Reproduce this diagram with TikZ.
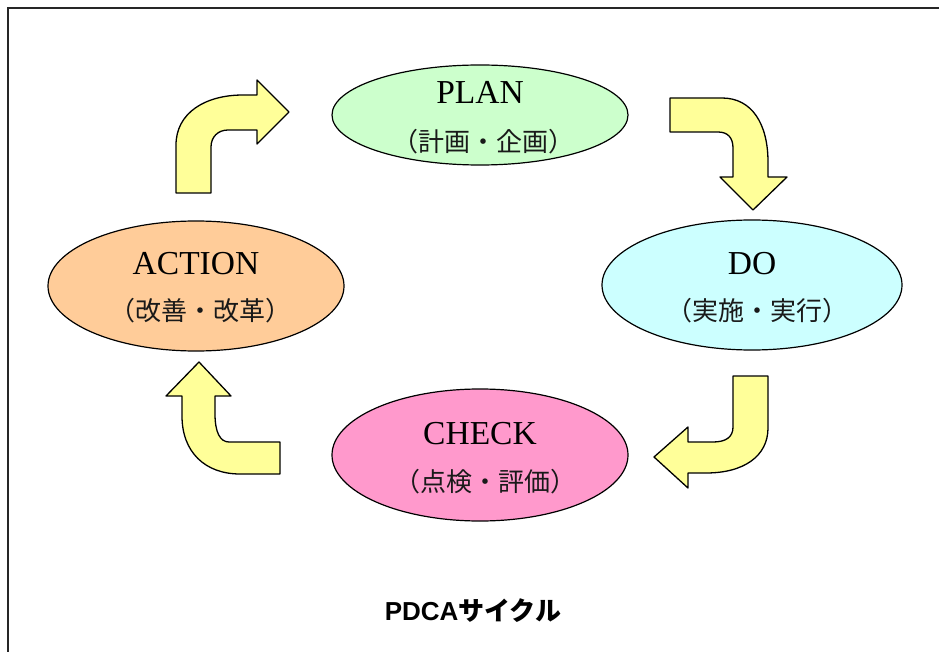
\documentclass[tikz,border=0pt]{standalone}
\usepackage{fontspec}
\setmainfont{Liberation Serif}
\newfontfamily\cjk{Noto Sans CJK JP}
\newfontfamily\titlesans{Liberation Sans}
\usetikzlibrary{shapes.geometric}
\definecolor{planfill}{HTML}{CCFFCC}
\definecolor{dofill}{HTML}{CCFFFF}
\definecolor{actfill}{HTML}{FFCC99}
\definecolor{checkfill}{HTML}{FF99CC}
\definecolor{arrowfill}{HTML}{FFFF99}
\tikzset{
  phase/.style={ellipse, draw=black, line width=1.2pt, inner sep=0pt},
  enlabel/.style={anchor=base, inner sep=0pt, font=\fontsize{33.5}{40}\selectfont},
  jplabel/.style={inner sep=0pt, font=\cjk\fontsize{26}{30}\selectfont, text=black!90},
  blockarrow/.style={draw=black, fill=arrowfill, line width=1.3pt, line join=round},
}
\begin{document}
\begin{tikzpicture}[x=1pt, y={(0pt,-1pt)}]
\useasboundingbox (0,0) rectangle (939,652);
\fill[white] (0,0) rectangle (939,652);
% frame
\draw[black!85, line width=2pt] (8,700) -- (8,8) -- (990,8);

% ellipses
\node[phase, fill=planfill, minimum width=296pt, minimum height=100pt] (plan) at (480,115) {};
\node[phase, fill=dofill, minimum width=300pt, minimum height=130pt] (do) at (752,285) {};
\node[phase, fill=actfill, minimum width=296pt, minimum height=130pt] (act) at (196,286) {};
\node[phase, fill=checkfill, minimum width=296pt, minimum height=132pt] (check) at (480,455) {};

% labels
\node[enlabel] (planEN) at (480,104) {PLAN};
\node[jplabel] (planJP) at (483,142) {（計画・企画）};
\node[enlabel] (doEN) at (752,274) {DO};
\node[jplabel] (doJP) at (757,311) {（実施・実行）};
\node[enlabel] (actEN) at (196,275) {ACTION};
\node[jplabel] (actJP) at (200,311) {（改善・改革）};
\node[enlabel] (checkEN) at (480,444) {CHECK};
\node[jplabel] (checkJP) at (485,482) {（点検・評価）};

% block arrows
% ACTION -> PLAN
\draw[blockarrow] (176,193) -- (176,145) .. controls (176,113) and (205,95) .. (243,95)
  -- (257,95) -- (257,80) -- (289,112) -- (257,144) -- (257,130) -- (228,130)
  .. controls (218,130) and (211,137) .. (211,147) -- (211,193) -- cycle;
% PLAN -> DO
\draw[blockarrow] (670,98) -- (722,98) .. controls (752,98) and (768,124) .. (768,162)
  -- (768,177) -- (787,177) -- (753,210) -- (720,177) -- (733,177) -- (733,148)
  .. controls (733,138) and (728,132) .. (718,132) -- (670,132) -- cycle;
% DO -> CHECK
\draw[blockarrow] (733,376) -- (768,376) -- (768,428) .. controls (768,456) and (744,473) .. (706,473)
  -- (688,473) -- (688,488) -- (654,457) -- (688,427) -- (688,442) -- (713,442)
  .. controls (726,442) and (733,437) .. (733,427) -- cycle;
% CHECK -> ACTION
\draw[blockarrow] (280,442) -- (229,442) .. controls (220,442) and (215,432) .. (215,414)
  -- (215,396) -- (231,396) -- (199,362) -- (166,396) -- (182,396) -- (182,416)
  .. controls (182,452) and (205,474) .. (240,474) -- (280,474) -- cycle;

% title
\node[inner sep=0pt, anchor=base] (title) at (473,620)
  {\fontsize{26}{30}\selectfont\bfseries\titlesans PDCA\cjk サイクル};
\end{tikzpicture}
\end{document}
